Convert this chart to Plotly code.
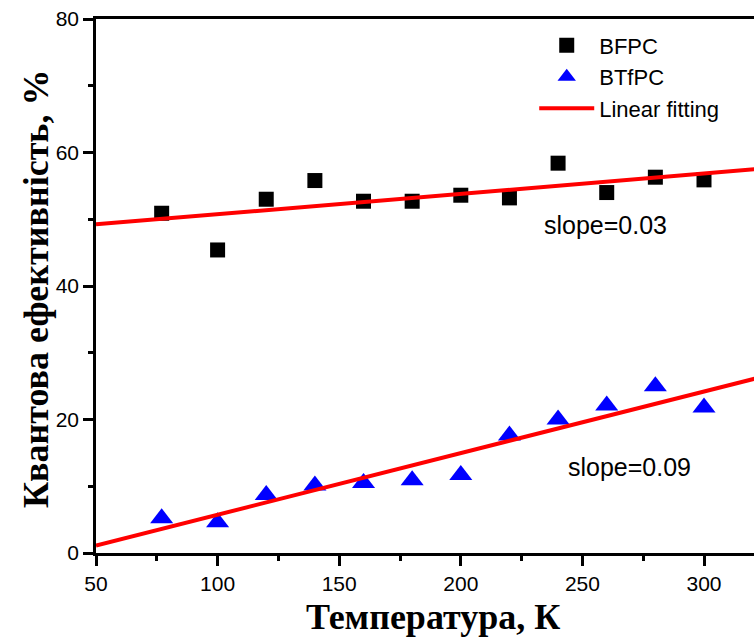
import numpy as np
import plotly.graph_objects as go

# Temperature points, K
temperature = [77, 100, 120, 140, 160, 180, 200, 220, 240, 260, 280, 300]

# Quantum efficiency, %
qe_bfpc = [50.9, 45.4, 53.0, 55.8, 52.7, 52.7, 53.6, 53.2, 58.4, 54.0, 56.3, 55.9]
qe_btfpc = [5.2, 4.6, 8.7, 10.1, 10.5, 10.9, 11.7, 17.6, 20.0, 22.1, 25.0, 21.8]

x_range = [50, 320.56]
y_range = [0, 80]
x_ticks = [50, 100, 150, 200, 250, 300]
y_ticks = [0, 20, 40, 60, 80]

x_title = "Температура, К"
y_title = "Квантова ефективність, %"

# Least-squares linear fits
k_bfpc, b_bfpc = np.polyfit(temperature, qe_bfpc, 1)
k_btfpc, b_btfpc = np.polyfit(temperature, qe_btfpc, 1)
fit_x = np.array([x_range[0], x_range[1] + 5])

fig = go.Figure()

fig.add_trace(go.Scatter(
    x=temperature, y=qe_bfpc, mode="markers", name="BFPC",
    marker=dict(symbol="square", size=15, color="black"),
))
fig.add_trace(go.Scatter(
    x=temperature, y=qe_btfpc, mode="markers", name="BTfPC",
    marker=dict(symbol="triangle-up", size=20, color="#0000ff"),
))
fig.add_trace(go.Scatter(
    x=fit_x, y=k_bfpc * fit_x + b_bfpc, mode="lines", name="Linear fitting",
    line=dict(color="#ff0000", width=4),
))
fig.add_trace(go.Scatter(
    x=fit_x, y=k_btfpc * fit_x + b_btfpc, mode="lines", name="Linear fitting",
    line=dict(color="#ff0000", width=4), showlegend=False,
))

label_font = dict(family="Liberation Sans, Arial", size=25, color="black")
fig.add_annotation(x=259.7, y=49.1, text=f"slope={k_bfpc:.2f}", showarrow=False,
                   font=label_font)
fig.add_annotation(x=269.2, y=12.9, text=f"slope={k_btfpc:.2f}", showarrow=False,
                   font=label_font)

title_font = dict(family="Liberation Serif, Times New Roman", size=36, color="black")
# Axis titles placed in pixel-derived paper coordinates
fig.add_annotation(xref="paper", yref="paper", x=(433 - 96) / 658, y=-(617 - 553) / 534,
                   text=f"<b>{x_title}</b>", showarrow=False, font=title_font,
                   xanchor="center", yanchor="middle")
fig.add_annotation(xref="paper", yref="paper", x=-(96 - 36) / 658, y=(553 - 289) / 534,
                   text=f"<b>{y_title}</b>", showarrow=False, font=title_font,
                   textangle=-90, xanchor="center", yanchor="middle")

axis_common = dict(
    showline=True, linecolor="black", linewidth=2.5,
    ticks="outside", ticklen=10, tickwidth=2.5, tickcolor="black",
    showgrid=False, zeroline=False,
    tickfont=dict(family="Liberation Sans, Arial", size=21, color="black"),
)

fig.update_xaxes(
    range=x_range, tickvals=x_ticks, mirror=True,
    minor=dict(ticks="outside", ticklen=5, tickwidth=2.5, tickcolor="black", dtick=25, tick0=50),
    **axis_common,
)
fig.update_yaxes(
    range=y_range, tickvals=y_ticks,
    minor=dict(ticks="outside", ticklen=5, tickwidth=2.5, tickcolor="black", dtick=10, tick0=0),
    **axis_common,
)

fig.update_layout(
    width=754, height=639,
    margin=dict(l=96, r=0, t=19, b=86),
    plot_bgcolor="white", paper_bgcolor="white",
    legend=dict(
        x=0.666, y=0.99, xanchor="left", yanchor="top",
        font=dict(family="Liberation Sans, Arial", size=22, color="black"),
        bgcolor="rgba(0,0,0,0)", itemwidth=55,
    ),
)

fig.write_html("out.html")
